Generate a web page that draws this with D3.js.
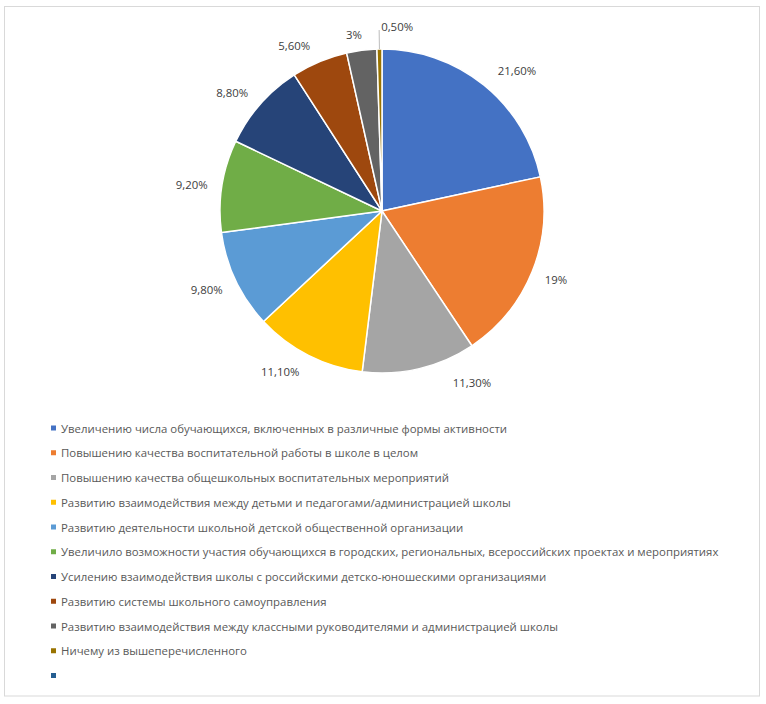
<!DOCTYPE html>
<html><head><meta charset="utf-8">
<script src="https://cdn.jsdelivr.net/npm/d3@7"></script>
<style>body{margin:0;background:#fff}</style>
</head><body>
<svg id="chart" width="766" height="704"></svg>
<script>
const categories = [
  "Увеличению числа обучающихся, включенных в различные формы активности",
  "Повышению качества воспитательной работы в школе в целом",
  "Повышению качества общешкольных воспитательных мероприятий",
  "Развитию взаимодействия между детьми и педагогами/администрацией школы",
  "Развитию деятельности школьной детской общественной организации",
  "Увеличило возможности участия обучающихся в городских, региональных, всероссийских проектах и мероприятиях",
  "Усилению взаимодействия школы с российскими детско-юношескими организациями",
  "Развитию системы школьного самоуправления",
  "Развитию взаимодействия между классными руководителями и администрацией школы",
  "Ничему из вышеперечисленного",
  ""
];
const values = [21.6, 19, 11.3, 11.1, 9.8, 9.2, 8.8, 5.6, 3, 0.5, null];
const valueLabels = ["21,60%", "19%", "11,30%", "11,10%", "9,80%", "9,20%", "8,80%", "5,60%", "3%", "0,50%", ""];
const colors = ["#4472C4", "#ED7D31", "#A5A5A5", "#FFC000", "#5B9BD5", "#70AD47", "#264478", "#9E480E", "#636363", "#997300", "#255E91"];

// label placement tweaks (degrees added to slice mid-angle, radius of label centre)
const labelAngleNudge = [4.9, -0.5, -14.3, 5.4, 1.3, -1.1, -3, -5.3, -1.8, 0];
const labelRadius = [195, 187, 194, 190, 192, 192, 191, 187, 179, 181];

const svg = d3.select("#chart");
const fontFamily = "'Open Sans', 'Noto Sans', sans-serif";

svg.append("rect").attr("x", 4.5).attr("y", 6.5).attr("width", 755).attr("height", 689.5)
  .attr("fill", "#fff").attr("stroke", "#d9d9d9").attr("stroke-width", 1);

// fit font size so the longest legend line matches reference width
const probe = svg.append("text").attr("font-family", fontFamily).attr("font-size", 11).text(categories[5]);
const probeW = probe.node().getComputedTextLength();
probe.remove();
const fs = 11 * 658 / probeW;

const cx = 382, cy = 211, r = 162;
const data = categories.map((c, i) => ({cat: c, value: values[i], label: valueLabels[i], color: colors[i], i}));
const pieData = data.filter(d => d.value != null);

const pie = d3.pie().sort(null).value(d => d.value);
const arc = d3.arc().innerRadius(0).outerRadius(r);
const arcs = pie(pieData);

const g = svg.append("g").attr("transform", `translate(${cx},${cy})`);
g.selectAll("path.slice").data(arcs).join("path")
  .attr("class", "slice")
  .attr("d", arc)
  .attr("fill", d => d.data.color)
  .attr("stroke", "#fff").attr("stroke-width", 1.5).attr("stroke-linejoin", "round");

// labels
arcs.forEach((a, k) => {
  const mid = (a.startAngle + a.endAngle) / 2;
  const ang = mid + labelAngleNudge[k] * Math.PI / 180;
  const R = labelRadius[k];
  const x = R * Math.sin(ang), y = -R * Math.cos(ang);
  if (k === arcs.length - 1) {
    const x0 = r * Math.sin(mid), y0 = -r * Math.cos(mid);
    g.append("line").attr("x1", x0).attr("y1", y0).attr("x2", x).attr("y2", y)
      .attr("stroke", "#a6a6a6").attr("stroke-width", 0.75);
    g.append("text").attr("x", x + 2).attr("y", y - 4)
      .attr("font-family", fontFamily).attr("font-size", fs).attr("fill", "#404040")
      .attr("text-anchor", "start").attr("dominant-baseline", "central")
      .text(a.data.label);
  } else {
    g.append("text").attr("x", x).attr("y", y)
      .attr("font-family", fontFamily).attr("font-size", fs).attr("fill", "#404040")
      .attr("text-anchor", "middle").attr("dominant-baseline", "central")
      .text(a.data.label);
  }
});

// legend
const ly = d3.scaleLinear().domain([0, categories.length - 1]).range([428, 675.5]);
const leg = svg.append("g");
data.forEach((d, i) => {
  leg.append("rect").attr("x", 51).attr("y", ly(i) - 2.5).attr("width", 5).attr("height", 5).attr("fill", d.color);
  leg.append("text").attr("x", 61).attr("y", ly(i)).attr("dominant-baseline", "central")
    .attr("font-family", fontFamily).attr("font-size", fs).attr("fill", "#595959").text(d.cat);
});
</script>
</body></html>
